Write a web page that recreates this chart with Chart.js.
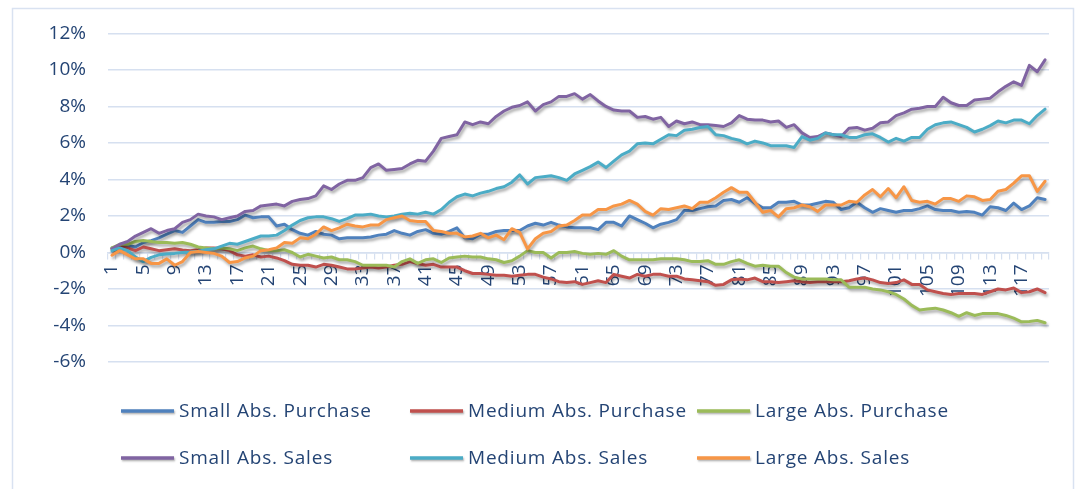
<!DOCTYPE html>
<html>
<head>
<meta charset="utf-8">
<script src="https://cdn.jsdelivr.net/npm/chart.js@4"></script>
<style>
  html, body { margin: 0; padding: 0; background: #fff; }
</style>
</head>
<body>
<canvas id="absChart" width="1082" height="489"></canvas>
<script>
// periods 1..120
let labels = [];
for (let i = 1; i <= 120; i++) labels.push(String(i));

let seriesNames = [
    'Small Abs. Purchase',
    'Medium Abs. Purchase',
    'Large Abs. Purchase',
    'Small Abs. Sales',
    'Medium Abs. Sales',
    'Large Abs. Sales'
];

let smallPurchase = [
    0.25, 0.35, 0.4, 0.3, 0.55, 0.65, 0.8, 1.0, 1.2, 1.1,
    1.45, 1.8, 1.65, 1.65, 1.7, 1.7, 1.8, 2.05, 1.9, 1.95,
    1.95, 1.45, 1.55, 1.25, 1.05, 0.95, 1.15, 1.0, 0.95, 0.75,
    0.8, 0.8, 0.8, 0.85, 0.95, 1.0, 1.2, 1.05, 0.95, 1.15,
    1.25, 1.05, 1.0, 1.15, 1.35, 0.8, 0.75, 1.0, 1.0, 1.15,
    1.2, 1.2, 1.2, 1.45, 1.6, 1.5, 1.65, 1.5, 1.4, 1.35,
    1.35, 1.35, 1.25, 1.65, 1.65, 1.45, 2.0, 1.8, 1.6, 1.35,
    1.55, 1.65, 1.8, 2.3, 2.3, 2.4, 2.5, 2.55, 2.85, 2.9,
    2.75, 3.0, 2.7, 2.45, 2.45, 2.75, 2.75, 2.8, 2.6, 2.6,
    2.7, 2.8, 2.75, 2.35, 2.45, 2.75, 2.45, 2.2, 2.4, 2.3,
    2.2, 2.3, 2.3, 2.4, 2.55, 2.35, 2.3, 2.3, 2.2, 2.25,
    2.2, 2.05, 2.5, 2.45, 2.3, 2.7, 2.35, 2.55, 3.0, 2.9
];

let mediumPurchase = [
    0.2, 0.35, 0.25, 0.1, 0.3, 0.2, 0.1, 0.15, 0.2, 0.13,
    0.1, 0.15, 0.25, 0.25, 0.2, 0.1, -0.13, -0.2, -0.13, -0.25,
    -0.2, -0.3, -0.45, -0.65, -0.7, -0.7, -0.8, -0.65, -0.7, -0.8,
    -0.9, -0.9, -0.85, -0.8, -0.85, -0.8, -0.7, -0.65, -0.5, -0.6,
    -0.7, -0.65, -0.8, -0.8, -0.8, -1.0, -1.15, -1.15, -1.2, -1.25,
    -1.25, -1.3, -1.25, -1.2, -1.2, -1.35, -1.45, -1.6, -1.65, -1.6,
    -1.75, -1.65, -1.55, -1.65, -1.2, -1.3, -1.4, -1.2, -1.3, -1.2,
    -1.2, -1.3, -1.3, -1.45, -1.5, -1.55, -1.6, -1.8, -1.75, -1.5,
    -1.45, -1.5, -1.4, -1.6, -1.6, -1.65, -1.6, -1.55, -1.6, -1.65,
    -1.6, -1.6, -1.6, -1.6, -1.55, -1.45, -1.4, -1.5, -1.65, -1.7,
    -1.65, -1.5, -1.75, -1.75, -2.05, -2.15, -2.25, -2.3, -2.25, -2.25,
    -2.25, -2.3, -2.15, -2.0, -2.05, -1.95, -2.2, -2.15, -2.0, -2.2
];

let largePurchase = [
    0.25, 0.45, 0.45, 0.6, 0.65, 0.6, 0.55, 0.55, 0.5, 0.55,
    0.45, 0.3, 0.25, 0.2, 0.25, 0.2, 0.1, 0.25, 0.35, 0.2,
    0.1, 0.1, 0.15, 0.0, -0.25, -0.1, -0.2, -0.3, -0.25, -0.4,
    -0.4, -0.5, -0.7, -0.7, -0.7, -0.7, -0.8, -0.5, -0.35, -0.6,
    -0.4, -0.35, -0.55, -0.3, -0.25, -0.2, -0.25, -0.25, -0.35, -0.4,
    -0.55, -0.45, -0.2, 0.1, 0.0, 0.0, -0.3, 0.0, 0.0, 0.05,
    -0.05, -0.1, -0.05, -0.1, 0.1, -0.2, -0.4, -0.4, -0.4, -0.4,
    -0.35, -0.35, -0.35, -0.4, -0.5, -0.5, -0.45, -0.65, -0.65, -0.5,
    -0.4, -0.6, -0.75, -0.7, -0.75, -0.75, -1.1, -1.35, -1.45, -1.45,
    -1.45, -1.45, -1.5, -1.5, -1.9, -1.9, -1.9, -2.0, -2.05, -2.15,
    -2.3, -2.55, -2.9, -3.15, -3.1, -3.05, -3.15, -3.3, -3.5, -3.3,
    -3.45, -3.35, -3.35, -3.35, -3.45, -3.6, -3.8, -3.78, -3.72, -3.85
];

let smallSales = [
    0.2, 0.45, 0.6, 0.9, 1.1, 1.3, 1.05, 1.2, 1.3, 1.65,
    1.8, 2.1, 2.0, 1.95, 1.8, 1.9, 2.0, 2.25, 2.3, 2.55,
    2.6, 2.65, 2.55, 2.8, 2.9, 2.95, 3.1, 3.65, 3.45, 3.75,
    3.95, 3.95, 4.1, 4.65, 4.85, 4.5, 4.55, 4.6, 4.85, 5.05,
    5.0, 5.55, 6.25, 6.35, 6.45, 7.15, 7.0, 7.15, 7.05, 7.45,
    7.75, 7.95, 8.05, 8.25, 7.75, 8.1, 8.25, 8.55, 8.55, 8.7,
    8.4, 8.65, 8.3, 8.0, 7.8, 7.75, 7.75, 7.4, 7.45, 7.3,
    7.4, 6.9, 7.2, 7.05, 7.15, 7.0, 7.0, 6.95, 6.9, 7.1,
    7.5, 7.3, 7.25, 7.25, 7.15, 7.2, 6.85, 7.0, 6.55, 6.3,
    6.35, 6.55, 6.45, 6.35, 6.8, 6.85, 6.7, 6.8, 7.1, 7.15,
    7.5, 7.65, 7.85, 7.9, 8.0, 8.0, 8.5, 8.2, 8.05, 8.05,
    8.35, 8.4, 8.45, 8.8, 9.1, 9.35, 9.15, 10.25, 9.9, 10.55
];

let mediumSales = [
    0.1, 0.25, 0.1, -0.25, -0.5, -0.27, -0.13, -0.08, -0.05, 0.0,
    0.03, 0.07, 0.15, 0.2, 0.35, 0.5, 0.45, 0.6, 0.75, 0.9,
    0.9, 0.95, 1.2, 1.5, 1.75, 1.9, 1.95, 1.95, 1.85, 1.7,
    1.85, 2.05, 2.05, 2.1, 2.0, 1.95, 2.0, 2.1, 2.15, 2.1,
    2.2, 2.1, 2.35, 2.75, 3.05, 3.2, 3.1, 3.25, 3.35, 3.5,
    3.6, 3.85, 4.25, 3.75, 4.1, 4.15, 4.2, 4.1, 3.95, 4.3,
    4.5, 4.7, 4.95, 4.65, 5.0, 5.35, 5.55, 5.95, 6.0, 5.95,
    6.2, 6.45, 6.4, 6.7, 6.75, 6.85, 6.9, 6.45, 6.4, 6.25,
    6.15, 5.95, 6.1, 6.0, 5.85, 5.85, 5.85, 5.75, 6.35, 6.15,
    6.25, 6.55, 6.45, 6.45, 6.3, 6.3, 6.45, 6.5, 6.3, 6.05,
    6.25, 6.1, 6.3, 6.3, 6.75, 7.0, 7.1, 7.15, 7.0, 6.85,
    6.6, 6.75, 6.95, 7.2, 7.1, 7.25, 7.25, 7.05, 7.5, 7.85
];

let largeSales = [
    -0.15, 0.1, -0.13, -0.35, -0.35, -0.6, -0.6, -0.35, -0.7, -0.5,
    0.0, 0.05, 0.0, -0.05, -0.2, -0.55, -0.5, -0.3, -0.2, 0.1,
    0.15, 0.25, 0.55, 0.5, 0.8, 0.75, 1.0, 1.4, 1.2, 1.35,
    1.55, 1.45, 1.4, 1.5, 1.5, 1.8, 1.9, 2.0, 1.75, 1.7,
    1.7, 1.2, 1.15, 1.05, 1.05, 0.85, 0.9, 1.05, 0.8, 0.95,
    0.7, 1.3, 1.1, 0.2, 0.75, 1.05, 1.15, 1.45, 1.5, 1.75,
    2.05, 2.05, 2.35, 2.35, 2.55, 2.65, 2.85, 2.65, 2.25, 2.05,
    2.4, 2.35, 2.45, 2.55, 2.4, 2.75, 2.75, 3.0, 3.3, 3.55,
    3.3, 3.3, 2.75, 2.2, 2.3, 1.95, 2.4, 2.45, 2.6, 2.5,
    2.25, 2.6, 2.6, 2.6, 2.8, 2.75, 3.15, 3.45, 3.05, 3.5,
    3.0, 3.6, 2.85, 2.75, 2.8, 2.65, 2.95, 2.95, 2.8, 3.1,
    3.05, 2.85, 2.9, 3.35, 3.45, 3.8, 4.2, 4.2, 3.35, 3.9
];

let seriesColors = [
    '#4F81BD',
    '#C0504D',
    '#9BBB59',
    '#8064A2',
    '#4BACC6',
    '#F79646'
];

let seriesValues = [smallPurchase, mediumPurchase, largePurchase, smallSales, mediumSales, largeSales];

const textColor = '#244474';
const gridColor = '#D6E0F0';
const fontFamily = '"Open Sans", "Noto Sans", sans-serif';

// Excel-style drop shadow under each line
const lineShadow = {
    id: 'lineShadow',
    beforeDatasetDraw(chart) {
        const ctx = chart.ctx;
        ctx.save();
        ctx.shadowColor = 'rgba(0,0,0,0.35)';
        ctx.shadowBlur = 3;
        ctx.shadowOffsetX = 1.5;
        ctx.shadowOffsetY = 2.5;
    },
    afterDatasetDraw(chart) {
        chart.ctx.restore();
    }
};

// chart border + two-row legend in three aligned columns
const frameAndLegend = {
    id: 'frameAndLegend',
    beforeDraw(chart) {
        const ctx = chart.ctx;
        ctx.save();
        ctx.strokeStyle = '#D9E2F1';
        ctx.lineWidth = 1.5;
        ctx.strokeRect(12.5, 8.5, 1061, 520);
        ctx.restore();
    },
    afterDraw(chart) {
        const ctx = chart.ctx;
        const cols = [121, 410, 697];
        const rows = [411, 458];
        ctx.save();
        ctx.font = '19px ' + fontFamily;
        ctx.letterSpacing = '0.8px';
        ctx.textBaseline = 'middle';
        chart.data.datasets.forEach((ds, i) => {
            const x = cols[i % 3];
            const y = rows[Math.floor(i / 3)];
            ctx.save();
            ctx.shadowColor = 'rgba(0,0,0,0.3)';
            ctx.shadowBlur = 2;
            ctx.shadowOffsetX = 1;
            ctx.shadowOffsetY = 1.5;
            ctx.strokeStyle = ds.borderColor;
            ctx.lineWidth = 3.5;
            ctx.beginPath();
            ctx.moveTo(x, y);
            ctx.lineTo(x + 53, y);
            ctx.stroke();
            ctx.restore();
            ctx.fillStyle = textColor;
            ctx.fillText(ds.label, x + 58, y + 1);
        });
        ctx.restore();
    }
};

const data = {
    labels: labels,
    datasets: seriesNames.map((name, i) => ({
        label: name,
        data: seriesValues[i],
        borderColor: seriesColors[i],
        backgroundColor: seriesColors[i],
        borderWidth: 3,
        pointRadius: 0,
        tension: 0,
        borderJoinStyle: 'round',
        borderCapStyle: 'round',
        order: 6 - i
    }))
};

const config = {
    type: 'line',
    data: data,
    options: {
        responsive: false,
        animation: false,
        layout: {
            padding: { left: 0, right: 33, top: 32, bottom: 127 }
        },
        plugins: {
            legend: { display: false },
            tooltip: { enabled: false }
        },
        scales: {
            x: {
                type: 'category',
                position: { y: 0 },
                offset: true,
                grid: {
                    offset: true,
                    drawOnChartArea: false,
                    drawTicks: true,
                    tickLength: 6,
                    color: gridColor,
                    lineWidth: 1.2
                },
                border: { display: true, color: gridColor, width: 1.5 },
                ticks: {
                    autoSkip: false,
                    minRotation: 90,
                    maxRotation: 90,
                    padding: 6,
                    color: textColor,
                    font: { family: fontFamily, size: 19 },
                    callback: (v, i) => (i % 4 === 0 ? labels[i] : '')
                }
            },
            y: {
                min: -6,
                max: 12,
                afterFit: (scale) => { scale.width = 108; },
                grid: { color: gridColor, lineWidth: 1.5, drawTicks: false },
                border: { display: false },
                ticks: {
                    stepSize: 2,
                    padding: 22,
                    color: textColor,
                    font: { family: fontFamily, size: 19 },
                    callback: (v) => v + '%'
                }
            }
        }
    },
    plugins: [lineShadow, frameAndLegend]
};

const chart = new Chart(
    document.getElementById('absChart'),
    config
);
</script>
</body>
</html>
